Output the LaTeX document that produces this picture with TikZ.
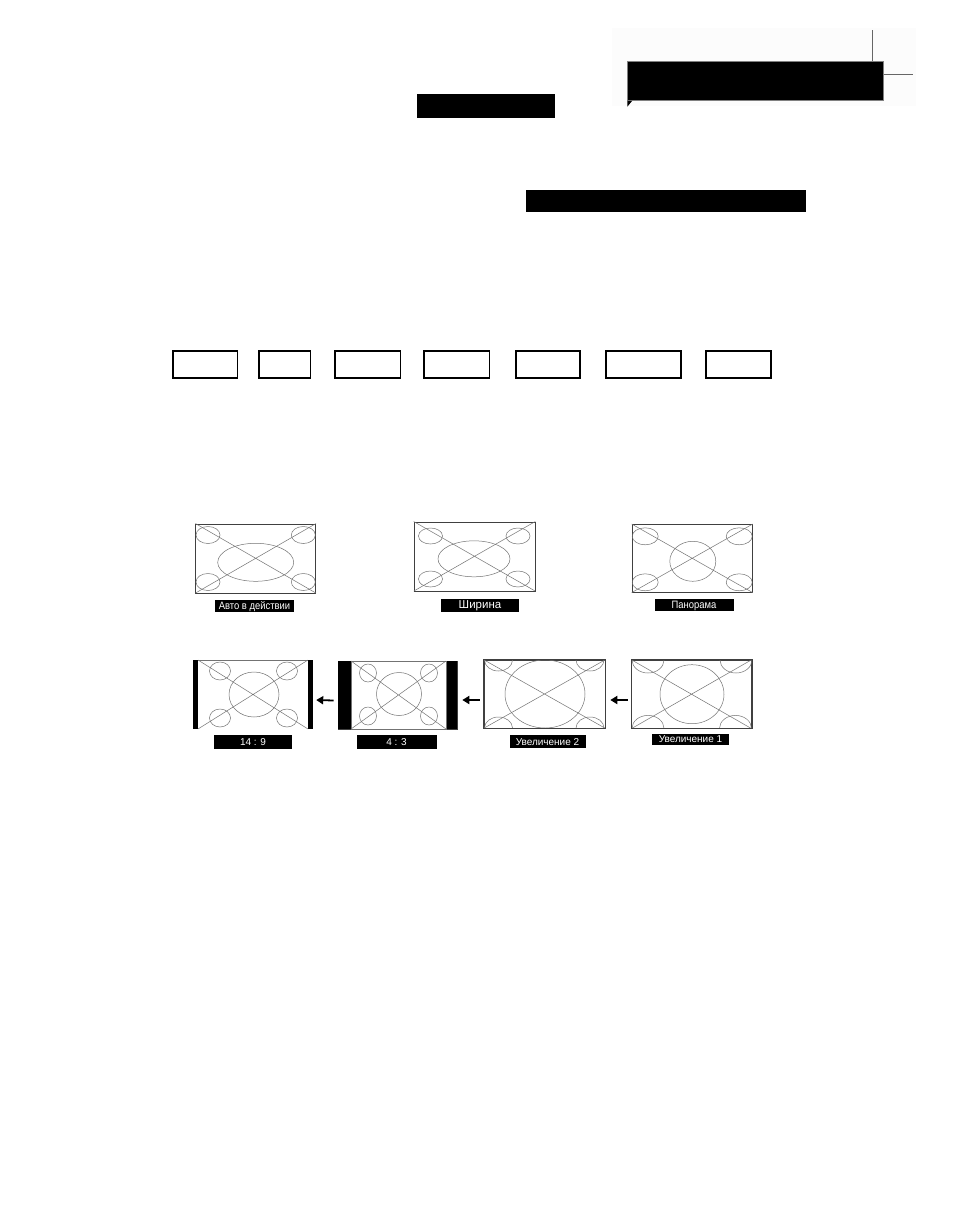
\documentclass[tikz,border=0pt]{standalone}
\usepackage{fontspec}
\setmainfont{Liberation Sans}
\newfontfamily\narrowfont[FakeStretch=0.88]{Liberation Sans}
\usetikzlibrary{arrows.meta,calc}
\begin{document}
\begin{tikzpicture}[x=1pt,y=-1pt,
  screen/.style={draw=black!75, line width=0.6pt, inner sep=0, fill=white},
  bare/.style={inner sep=0, draw=none},
  lbl/.style={fill=black, text=white, font=\fontsize{10}{11}\selectfont, inner sep=0, text depth=0pt},
  nlbl/.style={lbl, font=\narrowfont\fontsize{10.7}{11}\selectfont},
  ln/.style={draw=black!55, line width=0.5pt},
  emptybox/.style={draw, line width=1.1pt, minimum height=27pt, inner sep=0},
  blk/.style={fill=black, inner sep=0},
  arr/.style={line width=1.8pt, -{Triangle[length=7pt,width=8pt]}}
]
\useasboundingbox (0,0) rectangle (955,1227);
\fill[white] (0,0) rectangle (955,1227);

% header
\fill[black!1] (612,28) rectangle (916,106);
\node[blk, draw=black!50, line width=0.5pt, minimum width=256pt, minimum height=39pt] (hdr) at (755.5,81) {};
\fill[black] (hdr.south west) -- ++(0,6) -- ++(5,-6) -- cycle;
\coordinate (vtop) at (872,30);
\coordinate (hend) at (912.5,74);
\draw[black!60, line width=0.6pt] (vtop) -- (vtop |- hdr.north);
\draw[black!60, line width=0.6pt] (hend) -- (hend -| hdr.east);

% black bars
\node[blk, minimum width=138pt, minimum height=24pt] (b2) at (486,106) {};
\node[blk, minimum width=280pt, minimum height=22pt] (b3) at (666,201) {};

% empty boxes
\node[emptybox, minimum width=64.5pt] (e1) at (205.25,364.5) {};
\node[emptybox, minimum width=51.5pt] (e2) at (284.75,364.5) {};
\node[emptybox, minimum width=65.5pt] (e3) at (367.75,364.5) {};
\node[emptybox, minimum width=65.5pt] (e4) at (456.75,364.5) {};
\node[emptybox, minimum width=64pt] (e5) at (548,364.5) {};
\node[emptybox, minimum width=75pt] (e6) at (643.5,364.5) {};
\node[emptybox, minimum width=65pt] (e7) at (738.5,364.5) {};

% ---------- Row 1 ----------
% Screen A
\node[screen, minimum width=120pt, minimum height=69pt] (sA) at (255.7,558.3) {};
\begin{scope}[shift={(sA.center)}]
  \draw[ln] (sA.north west) -- (sA.south east) (sA.south west) -- (sA.north east);
  \draw[ln] (0,4) ellipse [x radius=38pt, y radius=19pt];
  \draw[ln] (-47.7,-23.3) ellipse [x radius=12pt, y radius=8.5pt];
  \draw[ln] (47.6,-23.3) ellipse [x radius=12pt, y radius=8.5pt];
  \draw[ln] (-47.7,23.7) ellipse [x radius=12pt, y radius=8.5pt];
  \draw[ln] (47.6,23.7) ellipse [x radius=12pt, y radius=8.5pt];
\end{scope}
\node[nlbl, minimum width=79pt, minimum height=12pt] (lA) at (254.5,605.5) {Авто в действии};

% Screen B
\node[screen, minimum width=121pt, minimum height=69pt] (sB) at (474.5,556.3) {};
\begin{scope}[shift={(sB.center)}]
  \draw[ln] (sB.north west) -- (sB.south east) (sB.south west) -- (sB.north east);
  \draw[ln] (-0.5,2.5) ellipse [x radius=36pt, y radius=18pt];
  \draw[ln] (-44,-20.3) ellipse [x radius=12pt, y radius=8pt];
  \draw[ln] (43.5,-20.3) ellipse [x radius=12pt, y radius=8pt];
  \draw[ln] (-44,22.7) ellipse [x radius=12pt, y radius=8pt];
  \draw[ln] (43.5,22.7) ellipse [x radius=12pt, y radius=8pt];
\end{scope}
\node[lbl, font=\fontsize{11.5}{12}\selectfont, minimum width=78pt, minimum height=13pt] (lB) at (480,605) {Ширина};

% Screen C
\node[screen, minimum width=120.5pt, minimum height=68pt] (sC) at (692.2,558.3) {};
\begin{scope}[shift={(sC.center)}]
  \draw[ln] (sC.north west) -- (sC.south east) (sC.south west) -- (sC.north east);
  \draw[ln] (0.6,3) ellipse [x radius=23pt, y radius=20pt];
  \draw[ln] (-47,-22) ellipse [x radius=13pt, y radius=8.5pt];
  \draw[ln] (47,-22) ellipse [x radius=13pt, y radius=8.5pt];
  \draw[ln] (-47,24) ellipse [x radius=13pt, y radius=8.5pt];
  \draw[ln] (47,24) ellipse [x radius=13pt, y radius=8.5pt];
\end{scope}
\node[nlbl, minimum width=79pt, minimum height=12pt] (lC) at (694,604.5) {Панорама};

% ---------- Row 2 ----------
% 14:9
\node[bare, minimum width=120pt, minimum height=69pt] (s149) at (253,694.5) {};
\begin{scope}[shift={(s149.center)}]
  \fill[black] (-60,-34.5) rectangle (-55,34.5);
  \fill[black] (55,-34.5) rectangle (60,34.5);
  \draw[ln] (-55,-34.5) -- (55,-34.5);
  \draw[ln] (-55,-34.5) -- (55,34.5) (-55,34.5) -- (55,-34.5);
  \draw[ln] (1,0) ellipse [x radius=25pt, y radius=22.5pt];
  \draw[ln] (-33,-23.5) ellipse [x radius=10.5pt, y radius=9pt];
  \draw[ln] (34,-23.5) ellipse [x radius=10.5pt, y radius=9pt];
  \draw[ln] (-33,23.5) ellipse [x radius=10.5pt, y radius=9pt];
  \draw[ln] (34,23.5) ellipse [x radius=10.5pt, y radius=9pt];
\end{scope}
\node[lbl, minimum width=78pt, minimum height=14pt] (l149) at (253,742) {14 : 9};

% 4:3
\node[screen, minimum width=119pt, minimum height=68pt] (s43) at (397.5,695) {};
\begin{scope}[shift={(s43.center)}]
  \fill[black] (-59.5,-34) rectangle (-46.5,34);
  \fill[black] (48.5,-34) rectangle (59.5,34);
  \draw[ln] (-46.5,-34) rectangle (48.5,34);
  \draw[ln] (-46.5,-34) -- (48.5,34) (-46.5,34) -- (48.5,-34);
  \draw[ln] (1.5,-1) ellipse [x radius=22.5pt, y radius=21.5pt];
  \draw[ln] (-29.5,-22) ellipse [x radius=8.5pt, y radius=9pt];
  \draw[ln] (31.5,-22) ellipse [x radius=8.5pt, y radius=9pt];
  \draw[ln] (-29.5,21) ellipse [x radius=8.5pt, y radius=9pt];
  \draw[ln] (31.5,21) ellipse [x radius=8.5pt, y radius=9pt];
\end{scope}
\node[lbl, minimum width=80pt, minimum height=14pt] (l43) at (396.5,742) {4 : 3};

% Zoom 2
\node[screen, minimum width=121pt, minimum height=68pt] (sZ2) at (544.5,694) {};
\begin{scope}
  \clip (sZ2.south west) rectangle (sZ2.north east);
  \begin{scope}[shift={(sZ2.center)}]
    \draw[ln] (0.5,0) ellipse [x radius=40pt, y radius=34pt];
    \draw[ln] (-46,-34) ellipse [x radius=14pt, y radius=11pt];
    \draw[ln] (45.5,-34) ellipse [x radius=14pt, y radius=11pt];
    \draw[ln] (-46,34) ellipse [x radius=14pt, y radius=11pt];
    \draw[ln] (45.5,34) ellipse [x radius=14pt, y radius=11pt];
  \end{scope}
\end{scope}
\draw[ln] (sZ2.north west) -- (sZ2.south east) (sZ2.south west) -- (sZ2.north east);
\draw[black!75, line width=0.6pt] (sZ2.south west) rectangle (sZ2.north east);
\node[lbl, minimum width=76pt, minimum height=13pt] (lZ2) at (547.5,741.5) {Увеличение 2};

% Zoom 1
\node[screen, minimum width=120pt, minimum height=68.5pt] (sZ1) at (691.5,694.2) {};
\begin{scope}
  \clip (sZ1.south west) rectangle (sZ1.north east);
  \begin{scope}[shift={(sZ1.center)}]
    \draw[ln] (0.5,0) ellipse [x radius=32pt, y radius=29.5pt];
    \draw[ln] (-43.5,-34.2) ellipse [x radius=16pt, y radius=13pt];
    \draw[ln] (44.5,-34.2) ellipse [x radius=16pt, y radius=13pt];
    \draw[ln] (-43.5,34.2) ellipse [x radius=16pt, y radius=13pt];
    \draw[ln] (44,34.2) ellipse [x radius=16pt, y radius=13pt];
  \end{scope}
\end{scope}
\draw[ln] (sZ1.north west) -- (sZ1.south east) (sZ1.south west) -- (sZ1.north east);
\draw[black!75, line width=0.6pt] (sZ1.south west) rectangle (sZ1.north east);
\node[lbl, minimum width=77pt, minimum height=11pt] (lZ1) at (690.5,739.5) {Увеличение 1};

% arrows
\draw[arr] ($(s43.west)+(-4,5.5)$) -- ($(s149.east)+(3,5.5)$);
\draw[arr] ($(sZ2.west)+(-4,6)$) -- ($(s43.east)+(5,5)$);
\draw[arr] ($(sZ1.west)+(-3.5,5.8)$) -- ($(sZ2.east)+(5,6)$);
\end{tikzpicture}
\end{document}
